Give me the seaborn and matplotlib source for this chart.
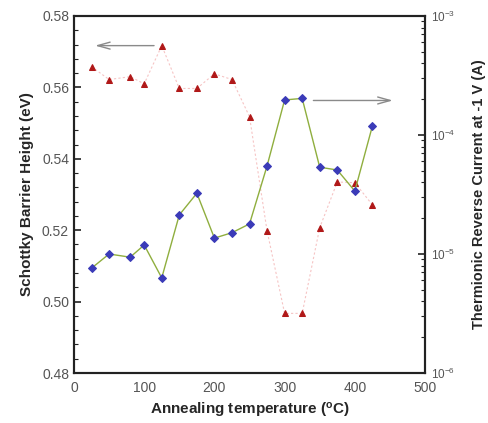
import matplotlib
matplotlib.use("Agg")
import matplotlib.pyplot as plt
import matplotlib.ticker as mticker
import seaborn as sns
import pandas as pd

# ---- data ----
temperature = [25, 50, 80, 100, 125, 150, 175, 200, 225, 250, 275, 300, 325, 350, 375, 400, 425]
barrier_height = [0.5658, 0.5622, 0.5630, 0.5610, 0.5717, 0.5597, 0.5597, 0.5638, 0.5622,
                  0.5518, 0.5198, 0.4967, 0.4967, 0.5207, 0.5335, 0.5333, 0.5271]
reverse_current = [7.6e-6, 1.0e-5, 9.4e-6, 1.19e-5, 6.3e-6, 2.13e-5, 3.24e-5, 1.36e-5, 1.51e-5,
                   1.79e-5, 5.5e-5, 1.97e-4, 2.03e-4, 5.36e-5, 5.08e-5, 3.38e-5, 1.19e-4]

x_label = "Annealing temperature ($^{\\mathregular{o}}$C)"
left_label = "Schottky Barrier Height (eV)"
right_label = "Thermionic Reverse Current at -1 V (A)"

df = pd.DataFrame({"T": temperature, "phi": barrier_height, "I": reverse_current})

sns.set_style("white")
plt.rcParams["font.family"] = ["Liberation Sans", "DejaVu Sans"]
plt.rcParams["mathtext.fontset"] = "custom"
plt.rcParams["mathtext.rm"] = "Liberation Sans"
plt.rcParams["mathtext.default"] = "regular"

fig = plt.figure(figsize=(4.88, 4.23), dpi=100)
ax = fig.add_axes([0.1516, 0.1182, 0.7194, 0.8440])
ax2 = ax.twinx()

# red: barrier height (left axis)
sns.lineplot(data=df, x="T", y="phi", ax=ax, color="#f6c4c4", linewidth=0.8,
             linestyle=(0, (2, 2)), marker="^", markersize=5,
             markerfacecolor="#b01818", markeredgecolor="#b01818", legend=False)
# blue: reverse current (right axis, log)
sns.lineplot(data=df, x="T", y="I", ax=ax2, color="#8fae3e", linewidth=1.0,
             marker="D", markersize=4.5, markerfacecolor="#3b3bb8",
             markeredgecolor="#3b3bb8", legend=False)

ax.set_xlim(0, 500)
ax.set_ylim(0.48, 0.58)
ax2.set_yscale("log")
ax2.set_ylim(1e-6, 1e-3)

ax.xaxis.set_major_locator(mticker.MultipleLocator(100))
ax.xaxis.set_minor_locator(mticker.MultipleLocator(20))
ax.yaxis.set_major_locator(mticker.MultipleLocator(0.02))
ax.yaxis.set_minor_locator(mticker.MultipleLocator(0.004))
ax.yaxis.set_major_formatter(mticker.FormatStrFormatter("%.2f"))
ax2.yaxis.set_major_locator(mticker.LogLocator(base=10, numticks=10))
ax2.yaxis.set_minor_locator(mticker.LogLocator(base=10, subs=range(2, 10), numticks=20))

for a in (ax, ax2):
    a.tick_params(which="major", direction="in", length=5, width=1.2, labelsize=10,
                  labelcolor="#555555", color="#222222")
    a.tick_params(which="minor", direction="in", length=3, width=0.8, color="#222222")
    for s in a.spines.values():
        s.set_linewidth(1.5)
        s.set_color("#222222")
ax.tick_params(axis="y", which="both", right=False)
ax.tick_params(axis="x", which="both", top=False)
ax.tick_params(axis="x", which="major", pad=6)
ax2.tick_params(axis="y", which="major", labelsize=8.5, pad=4)

ax.set_xlabel(x_label, fontsize=11, fontweight="bold", labelpad=4)
ax.set_ylabel(left_label, fontsize=11, fontweight="bold", labelpad=6)
ax2.set_ylabel(right_label, fontsize=10.5, fontweight="bold", labelpad=12)
ax2.set_xlabel("")

# arrows
ax.annotate("", xy=(26, 0.5717), xytext=(118, 0.5717),
            arrowprops=dict(arrowstyle="->,head_length=0.9,head_width=0.25",
                            color="#8a8a8a", lw=1.0))
ax2.annotate("", xy=(458, 1.95e-4), xytext=(337, 1.95e-4),
             arrowprops=dict(arrowstyle="->,head_length=0.9,head_width=0.25",
                             color="#8a8a8a", lw=1.0))

fig.savefig("out.png", dpi=100)
